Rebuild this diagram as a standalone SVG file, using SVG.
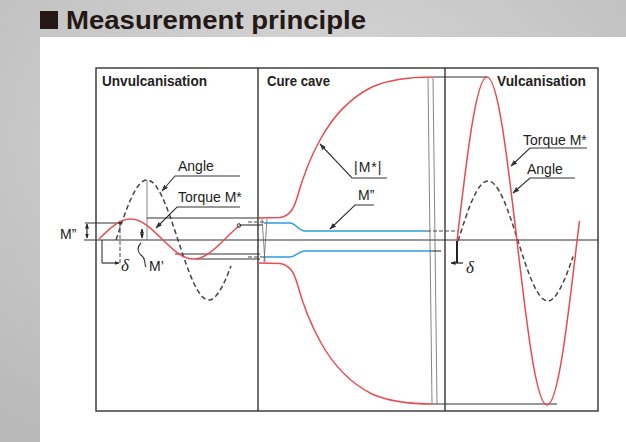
<svg xmlns="http://www.w3.org/2000/svg" width="626" height="442" viewBox="0 0 626 442">
<defs>
<radialGradient id="bg" cx="0.5" cy="0.3" r="0.8">
<stop offset="0" stop-color="#d9d9d9"/>
<stop offset="1" stop-color="#b9b9b9"/>
</radialGradient>
<marker id="ah" viewBox="0 0 10 10" refX="9" refY="5" markerWidth="7" markerHeight="7" orient="auto-start-reverse" markerUnits="userSpaceOnUse">
<path d="M0,1.5 L10,5 L0,8.5 z" fill="#333"/>
</marker>
<marker id="sa" viewBox="0 0 10 10" refX="9" refY="5" markerWidth="5" markerHeight="5" orient="auto-start-reverse" markerUnits="userSpaceOnUse">
<path d="M0,1 L10,5 L0,9 z" fill="#222"/>
</marker>
</defs>
<style>
.frame{fill:none;stroke:#333;stroke-width:1.4}
.ln{fill:none;stroke:#333;stroke-width:1.1}
.thin{fill:none;stroke:#666;stroke-width:0.8}
.red{fill:none;stroke:#ea4a4f;stroke-width:1.5}
.blue{fill:none;stroke:#2b9fdc;stroke-width:1.5}
.dash{fill:none;stroke:#444;stroke-width:1.5;stroke-dasharray:5 3}
.dsh{fill:none;stroke:#444;stroke-width:1;stroke-dasharray:4 2}
.lead{fill:none;stroke:#333;stroke-width:1.1;marker-end:url(#ah)}
.hd{font-family:"Liberation Sans",Arial,sans-serif;font-weight:bold;font-size:14.5px;fill:#222}
.lb{font-family:"Liberation Sans",Arial,sans-serif;font-size:14px;fill:#222}
.dl{font-family:"Liberation Serif","Times New Roman",serif;font-style:italic;font-size:17px;fill:#222}
</style>
<rect width="626" height="442" fill="url(#bg)"/>
<rect x="40" y="37" width="586" height="405" fill="#ffffff"/>
<g id="title">
<rect x="40" y="11" width="18" height="18" fill="#231815"/>
<text x="66" y="29" font-family="Liberation Sans,Arial,sans-serif" font-size="25" font-weight="bold" fill="#231815" textLength="300" lengthAdjust="spacingAndGlyphs">Measurement principle</text>
</g>
<g id="frame">
<rect class="frame" x="96" y="68" width="502" height="343"/>
<line class="frame" x1="258" y1="68" x2="258" y2="411"/>
<line class="frame" x1="445" y1="68" x2="445" y2="411"/>
<line class="ln" x1="84" y1="240" x2="598" y2="240"/>
</g>
<g id="unvulcanisation">
<text class="hd" x="102" y="86" textLength="105" lengthAdjust="spacingAndGlyphs">Unvulcanisation</text>
<line class="thin" x1="147" y1="180" x2="147" y2="240"/>
<line class="ln" x1="85" y1="223" x2="120" y2="223"/>
<line class="ln" x1="147" y1="218" x2="260" y2="218"/>
<line class="ln" x1="239" y1="225" x2="262" y2="225"/>
<line class="ln" x1="175" y1="254" x2="260" y2="254"/>
<line class="ln" x1="196" y1="259" x2="260" y2="259"/>
<path class="dash" d="M116,240 C126.1,209.3 135.8,180 147,180 C158.2,180 167.9,209.3 178,240 C188.1,270.7 197.8,300 209,300 Q218.5,300 231,266"/>
<path class="red" d="M99,239 C109.3,228.8 119.1,219 130.5,219 C141.9,219 151.7,228.8 162,239 C172.3,249.2 182.1,259 193.5,259 C204.9,259 214.7,249.2 225,239 Q234.3,229.7 239,226"/>
<circle cx="239" cy="225.5" r="1.8" fill="none" stroke="#333" stroke-width="1"/>
<circle cx="120" cy="223" r="1.6" fill="#333"/>
<line class="dsh" x1="120" y1="223" x2="120" y2="263"/>
<line class="ln" x1="102" y1="240" x2="102" y2="263"/>
<line x1="102" y1="263" x2="119" y2="263" stroke="#222" stroke-width="1.1" marker-end="url(#sa)"/>
<text class="dl" x="121" y="271">δ</text>
<line x1="87" y1="238" x2="87" y2="224" stroke="#222" stroke-width="1.1" marker-end="url(#sa)" marker-start="url(#sa)"/>
<text class="lb" x="60" y="239" font-size="15">M”</text>
<line x1="142" y1="238" x2="142" y2="229" stroke="#222" stroke-width="1.1" marker-end="url(#sa)" marker-start="url(#sa)"/>
<path class="ln" d="M141,243 C136,248 138,253 142,256 C146,259 144,264 146,267"/>
<text class="lb" x="149" y="271">M’</text>
<text class="lb" x="178" y="171">Angle</text>
<text class="lb" x="178" y="202">Torque M*</text>
</g>
<g id="cure-cave">
<text class="hd" x="267" y="86" textLength="63" lengthAdjust="spacingAndGlyphs">Cure cave</text>
<path class="red" d="M258,218 L280,217.5 C290,216 294,208 297,198 C302,180 310,158 320,140 C333,116 350,98 372,87 C390,79 410,77 433,77"/>
<path class="red" d="M258,263 L280,263.5 C290,265 294,273 297,283 C302,301 310,323 320,341 C333,365 350,383 372,394 C390,402 410,404 433,404"/>
<line class="dsh" x1="248" y1="222" x2="264" y2="222"/>
<line class="dsh" x1="248" y1="257" x2="264" y2="257"/>
<path class="blue" d="M264,223 L290,223 C296,223 298,231 305,231 L427,231"/>
<path class="blue" d="M264,257 L290,257 C296,257 298,251 305,251 L433,251"/>
<line class="thin" x1="262" y1="219" x2="265" y2="262"/>
<line class="thin" x1="267" y1="219" x2="264" y2="262"/>
<line class="thin" x1="428" y1="78" x2="432" y2="404"/>
<line class="thin" x1="433" y1="78" x2="437" y2="404"/>
<line class="ln" x1="433" y1="77" x2="487" y2="77"/>
<line class="ln" x1="433" y1="404" x2="557" y2="404"/>
<line class="dsh" x1="427" y1="231" x2="458" y2="231"/>
<line class="ln" x1="433" y1="251" x2="441" y2="251"/>
<text class="lb" x="354" y="172" letter-spacing="1">|M*|</text>
<text class="lb" x="358" y="200">M”</text>
</g>
<g id="vulcanisation">
<text class="hd" x="497" y="86" textLength="89" lengthAdjust="spacingAndGlyphs">Vulcanisation</text>
<path class="dash" d="M458,241 C467.8,210.3 477.1,181 488,181 C498.9,181 508.2,210.3 518,241 C527.8,271.7 537.1,301 548,301 Q558.4,301 573,256.5"/>
<path class="red" d="M457,241 C466.8,157 476.1,77 487,77 C497.9,77 507.2,157 517,241 C526.8,325 536.1,405 547,405 C557.9,405 567.2,325 577,241 L579.5,221"/>
<line x1="457" y1="241" x2="457" y2="263" stroke="#222" stroke-width="2"/>
<line x1="463" y1="263" x2="451" y2="263" stroke="#222" stroke-width="1.2" marker-end="url(#sa)"/>
<text class="dl" x="466" y="273">δ</text>
<text class="lb" x="523" y="145">Torque M*</text>
<text class="lb" x="527" y="174">Angle</text>
</g>
<g id="connectors">
<path class="lead" d="M240,176 L175,176 L162,191"/>
<path class="lead" d="M240,207 L177,207 L156,228"/>
<path class="lead" d="M387,178 L352,178 L320,144"/>
<path class="lead" d="M374,205 L355,205 L330,229"/>
<path class="lead" d="M587,148 L530,148 L511,166"/>
<path class="lead" d="M575,178 L530,178 L513,193"/>
</g>
</svg>
